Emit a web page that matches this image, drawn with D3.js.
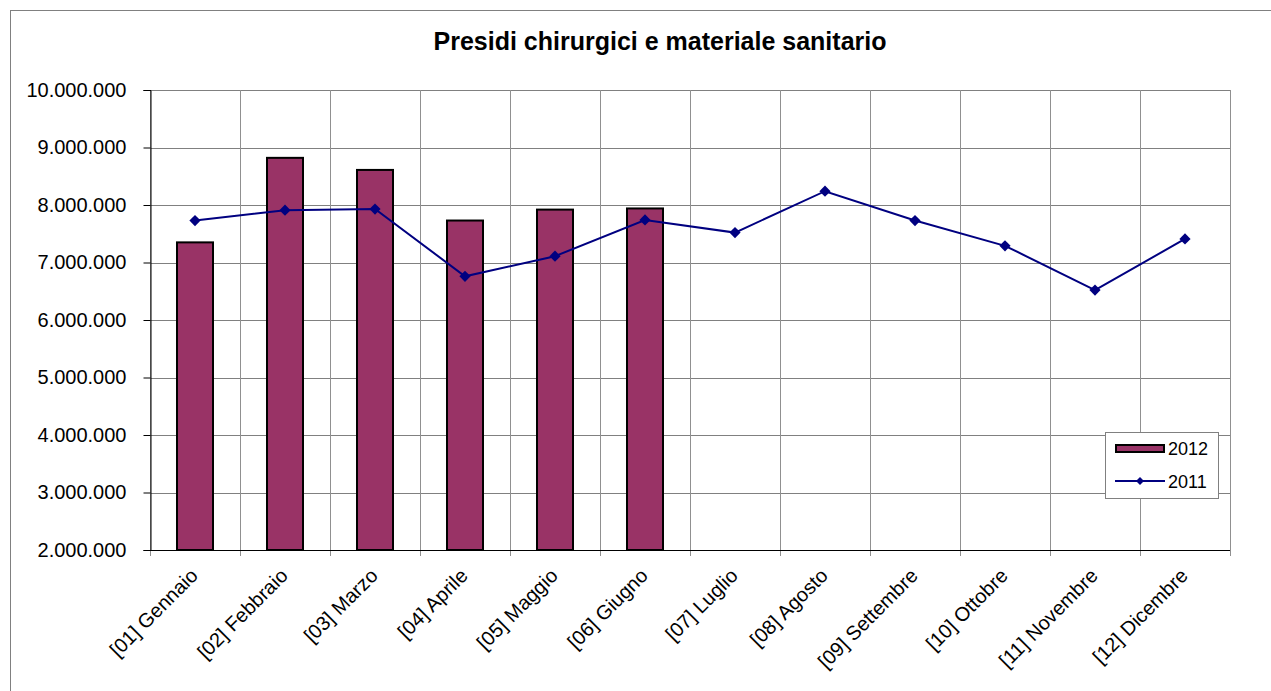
<!DOCTYPE html>
<html>
<head>
<meta charset="utf-8">
<script src="https://cdn.jsdelivr.net/npm/d3@7"></script>
<style>
  body { margin: 0; background: #fff; }
  text { font-family: "Liberation Sans", Arial, sans-serif; }
</style>
</head>
<body>
<div id="graph"></div>
<script>
// months and values
var months = ["[01] Gennaio", "[02] Febbraio", "[03] Marzo", "[04] Aprile", "[05] Maggio", "[06] Giugno",
  "[07] Luglio", "[08] Agosto", "[09] Settembre", "[10] Ottobre", "[11] Novembre", "[12] Dicembre"];
var values2012 = [7350000, 8820000, 8610000, 7730000, 7920000, 7940000];
var values2011 = [7730000, 7910000, 7930000, 6760000, 7110000, 7740000, 7520000, 8240000, 7730000, 7290000, 6520000, 7410000];
var yTicks = [2000000, 3000000, 4000000, 5000000, 6000000, 7000000, 8000000, 9000000, 10000000];

var svg = d3.select('#graph').append("svg")
  .attr('width', 1271)
  .attr('height', 691);

// outer chart frame
svg.append("rect")
  .attr("x", 10.5).attr("y", 10.5)
  .attr("width", 1300).attr("height", 700)
  .attr("fill", "none").attr("stroke", "#808080");

var margin = {top: 90, left: 150, right: 1230, bottom: 550};

var x = d3.scaleBand().domain(months).range([margin.left, margin.right]).paddingInner(0.6).paddingOuter(0.3);
var xc = d3.scaleBand().domain(months).range([margin.left, margin.right]);
var y = d3.scaleLinear().domain([2000000, 10000000]).range([margin.bottom, margin.top]);

// title
svg.append("text")
  .attr("x", 660).attr("y", 50)
  .attr("text-anchor", "middle")
  .style("font-size", "25px").style("font-weight", "bold")
  .text("Presidi chirurgici e materiale sanitario");

// horizontal gridlines
svg.append("g").selectAll("line")
  .data(yTicks)
  .enter().append("line")
  .attr("x1", margin.left).attr("x2", margin.right)
  .attr("y1", function(d) { return Math.round(y(d)) + 0.5; })
  .attr("y2", function(d) { return Math.round(y(d)) + 0.5; })
  .attr("stroke", "#808080");

// vertical gridlines at category edges
var edges = months.map(function(m) { return xc(m); }).concat([margin.right]);
svg.append("g").selectAll("line")
  .data(edges)
  .enter().append("line")
  .attr("x1", function(d) { return Math.round(d) + 0.5; })
  .attr("x2", function(d) { return Math.round(d) + 0.5; })
  .attr("y1", margin.top).attr("y2", margin.bottom + 6)
  .attr("stroke", "#909090");

// Y axis
var yAxis = svg.append("g")
  .attr("transform", "translate(" + (margin.left + 0.5) + ",0)")
  .call(d3.axisLeft(y).tickValues(yTicks).tickSize(7).tickPadding(17)
    .tickFormat(function(d) { return d3.format(",")(d).replace(/,/g, "."); }));
yAxis.select(".domain").attr("stroke", "#000");
yAxis.selectAll(".tick line").attr("stroke", "#000");
yAxis.selectAll("text").style("font-size", "20px").attr("fill", "#000")
  .style("font-family", "'Liberation Sans', Arial, sans-serif");

// bars 2012
svg.append("g").selectAll("rect")
  .data(values2012)
  .enter().append("rect")
  .attr("x", function(d, i) { return x(months[i]); })
  .attr("y", function(d) { return y(d); })
  .attr("width", x.bandwidth())
  .attr("height", function(d) { return margin.bottom - y(d); })
  .attr("fill", "#993366")
  .attr("stroke", "#000")
  .attr("stroke-width", 2);

// bottom axis line
svg.append("line")
  .attr("x1", margin.left).attr("x2", margin.right)
  .attr("y1", margin.bottom + 0.5).attr("y2", margin.bottom + 0.5)
  .attr("stroke", "#000");

// x labels
svg.append("g").selectAll("text")
  .data(months)
  .enter().append("text")
  .attr("transform", function(d) {
    return "translate(" + (xc(d) + xc.bandwidth() / 2 + 4) + "," + (margin.bottom + 27) + ") rotate(-45)";
  })
  .attr("text-anchor", "end")
  .style("font-size", "20px")
  .text(function(d) { return d; });

// line 2011
var line2011 = d3.line()
  .x(function(d, i) { return xc(months[i]) + xc.bandwidth() / 2; })
  .y(function(d) { return y(d); });

svg.append("path")
  .datum(values2011)
  .attr("d", line2011)
  .attr("fill", "none")
  .attr("stroke", "#000080")
  .attr("stroke-width", 2);

var diamond = d3.symbol().type(d3.symbolDiamond2).size(80);
svg.append("g").selectAll("path")
  .data(values2011)
  .enter().append("path")
  .attr("d", diamond)
  .attr("transform", function(d, i) {
    return "translate(" + (xc(months[i]) + xc.bandwidth() / 2) + "," + y(d) + ")";
  })
  .attr("fill", "#000080");

// legend
var legend = svg.append("g").attr("transform", "translate(1105,432)");
legend.append("rect")
  .attr("x", 0.5).attr("y", 0.5).attr("width", 113).attr("height", 66)
  .attr("fill", "#fff").attr("stroke", "#808080");
legend.append("rect")
  .attr("x", 11).attr("y", 13).attr("width", 48).attr("height", 7)
  .attr("fill", "#993366").attr("stroke", "#000").attr("stroke-width", 2);
legend.append("text").attr("x", 63).attr("y", 23).style("font-size", "18px").text("2012");
legend.append("line")
  .attr("x1", 10).attr("x2", 60).attr("y1", 49).attr("y2", 49)
  .attr("stroke", "#000080").attr("stroke-width", 2);
legend.append("path")
  .attr("d", d3.symbol().type(d3.symbolDiamond2).size(40))
  .attr("transform", "translate(35,49)")
  .attr("fill", "#000080");
legend.append("text").attr("x", 63).attr("y", 56).style("font-size", "18px").text("2011");
</script>
</body>
</html>
